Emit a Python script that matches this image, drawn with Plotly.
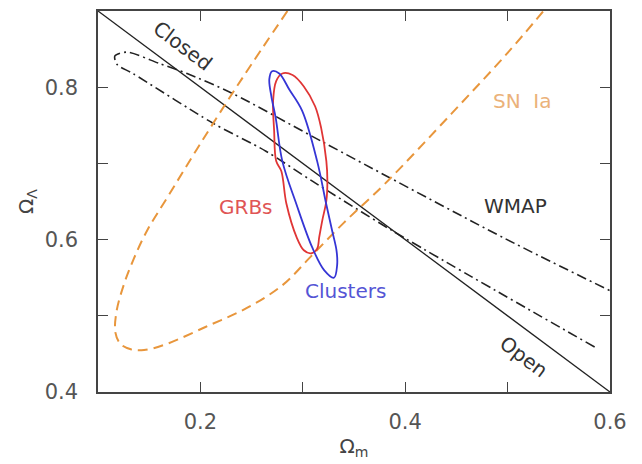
import plotly.graph_objects as go

# Flat universe line
flat_x = [0.1, 0.6]
flat_y = [0.9, 0.4]

# WMAP contour (open curve)
wmap_x = [0.585, 0.387, 0.309, 0.264, 0.212, 0.134, 0.1185, 0.1165, 0.128, 0.160, 0.187, 0.231, 0.321, 0.498, 0.600]
wmap_y = [0.459, 0.612, 0.677, 0.716, 0.753, 0.818, 0.830, 0.841, 0.846, 0.831, 0.818, 0.792, 0.727, 0.601, 0.533]

# SN Ia contour (extends beyond top)
sn_x = [0.285, 0.240, 0.200, 0.168, 0.148, 0.135, 0.125, 0.118, 0.117, 0.122, 0.132, 0.145, 0.167, 0.206, 0.245, 0.280, 0.308, 0.340, 0.380, 0.445, 0.500, 0.535]
sn_y = [0.900, 0.810, 0.726, 0.656, 0.612, 0.575, 0.540, 0.505, 0.478, 0.463, 0.456, 0.455, 0.463, 0.486, 0.510, 0.540, 0.578, 0.622, 0.673, 0.765, 0.845, 0.900]

# GRBs contour
grb_x = [0.280, 0.274, 0.271, 0.272, 0.274, 0.279, 0.284, 0.294, 0.301, 0.308, 0.314, 0.316, 0.319, 0.323, 0.324, 0.323, 0.318, 0.312, 0.301, 0.290, 0.280]
grb_y = [0.818, 0.808, 0.782, 0.743, 0.703, 0.690, 0.647, 0.603, 0.586, 0.582, 0.588, 0.603, 0.625, 0.651, 0.677, 0.703, 0.746, 0.775, 0.801, 0.816, 0.818]

# Clusters contour
cl_x = [0.270, 0.2673, 0.2693, 0.2735, 0.280, 0.2936, 0.3091, 0.3208, 0.3305, 0.3335, 0.3330, 0.3286, 0.3228, 0.314, 0.2994, 0.2868, 0.277, 0.270]
cl_y = [0.821, 0.8105, 0.788, 0.760, 0.703, 0.647, 0.590, 0.560, 0.550, 0.566, 0.585, 0.612, 0.647, 0.703, 0.769, 0.797, 0.818, 0.821]

# Labels
label_text = ["Closed", "Open", "SN  Ia", "WMAP", "GRBs", "Clusters"]
label_x = [0.183, 0.516, 0.515, 0.508, 0.245, 0.342]
label_y = [0.854, 0.446, 0.782, 0.644, 0.643, 0.533]
label_color = ["#333333", "#333333", "#EBB27A", "#333333", "#E05555", "#5555D5"]
label_angle = [37, 37, 0, 0, 0, 0]

tick_vals = [0.1, 0.2, 0.3, 0.4, 0.5, 0.6]
tick_text = ["", "0.2", "", "0.4", "", "0.6"]
ytick_vals = [0.4, 0.5, 0.6, 0.7, 0.8, 0.9]
ytick_text = ["0.4", "", "0.6", "", "0.8", ""]

FONT = "DejaVu Sans"

fig = go.Figure()
fig.add_trace(go.Scatter(x=flat_x, y=flat_y, mode="lines",
                         line=dict(color="#222222", width=1.3), hoverinfo="skip"))
fig.add_trace(go.Scatter(x=wmap_x, y=wmap_y, mode="lines",
                         line=dict(color="#222222", width=1.6, dash="10px,4px,2px,4px", shape="spline", smoothing=0.8),
                         hoverinfo="skip"))
fig.add_trace(go.Scatter(x=sn_x, y=sn_y, mode="lines",
                         line=dict(color="#E8963C", width=2, dash="10px,6px", shape="spline", smoothing=1.0),
                         hoverinfo="skip"))
fig.add_trace(go.Scatter(x=grb_x, y=grb_y, mode="lines",
                         line=dict(color="#E03535", width=1.8, shape="spline", smoothing=1.0),
                         hoverinfo="skip"))
fig.add_trace(go.Scatter(x=cl_x, y=cl_y, mode="lines",
                         line=dict(color="#3535D5", width=1.8, shape="spline", smoothing=1.0),
                         hoverinfo="skip"))

for t, x, y, c, a in zip(label_text, label_x, label_y, label_color, label_angle):
    fig.add_annotation(x=x, y=y, text=t, showarrow=False, textangle=a,
                       font=dict(family=FONT, size=20, color=c))

axis_common = dict(showgrid=False, zeroline=False, showline=True, linecolor="#444444", linewidth=1.5,
                   ticks="inside", ticklen=10, tickwidth=1.2, tickcolor="#444444", mirror="ticks",
                   automargin=False,
                   tickfont=dict(family=FONT, size=21, color="#555555"))

fig.update_xaxes(range=[0.1, 0.6], tickvals=tick_vals, ticktext=tick_text, ticklabelstandoff=10,
                 title=dict(text="Ω<sub>m</sub>", font=dict(family=FONT, size=20, color="#444444"), standoff=6),
                 **axis_common)
fig.update_yaxes(range=[0.4, 0.9], tickvals=ytick_vals, ticktext=ytick_text, ticklabelstandoff=14,
                 title=dict(text="Ω<sub>Λ</sub>", font=dict(family=FONT, size=20, color="#444444"), standoff=6),
                 **axis_common)

fig.update_layout(width=642, height=464, margin=dict(l=98, r=32, t=11, b=72),
                  plot_bgcolor="white", paper_bgcolor="white", showlegend=False)

fig.write_html("out.html")
